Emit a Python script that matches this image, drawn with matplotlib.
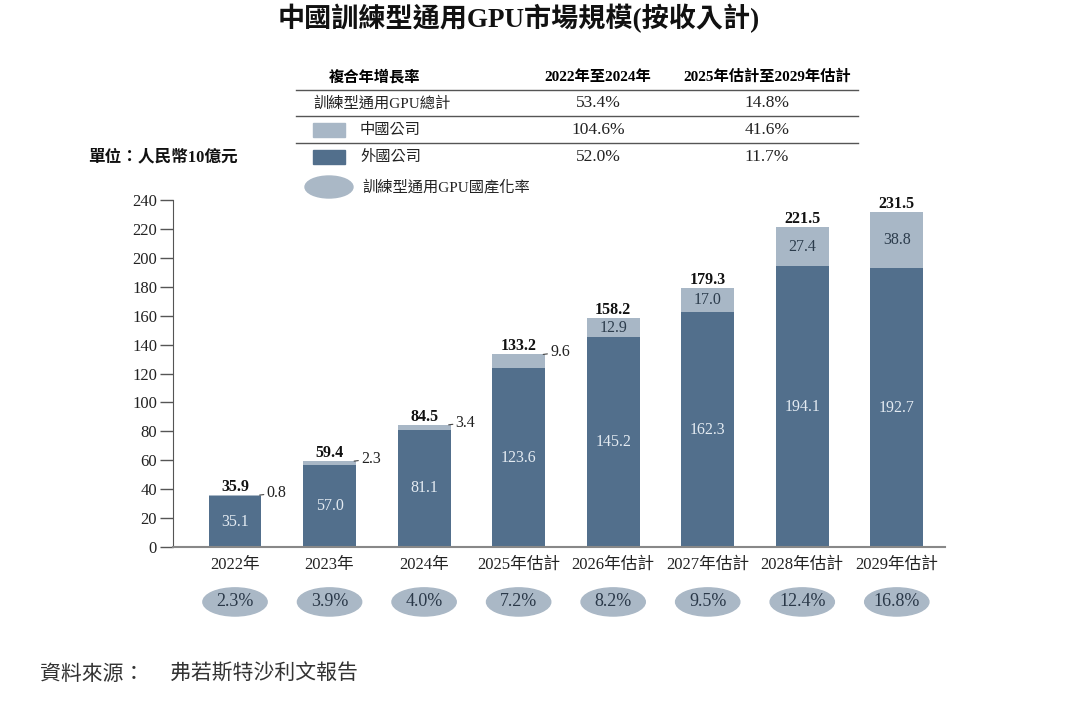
import matplotlib.pyplot as plt
from matplotlib.patches import Ellipse, Rectangle

plt.rcParams['font.family'] = ['Liberation Serif', 'Noto Sans CJK TC', 'DejaVu Sans']

years = ['2022年', '2023年', '2024年', '2025年估計', '2026年估計', '2027年估計', '2028年估計', '2029年估計']
foreign = [35.1, 57.0, 81.1, 123.6, 145.2, 162.3, 194.1, 192.7]
china = [0.8, 2.3, 3.4, 9.6, 12.9, 17.0, 27.4, 38.8]
totals = [35.9, 59.4, 84.5, 133.2, 158.2, 179.3, 221.5, 231.5]
local_rate = ['2.3%', '3.9%', '4.0%', '7.2%', '8.2%', '9.5%', '12.4%', '16.8%']

cagr_head = ['複合年增長率', '2022年至2024年', '2025年估計至2029年估計']
cagr_rows = ['訓練型通用GPU總計', '中國公司', '外國公司']
cagr_a = ['53.4%', '104.6%', '52.0%']
cagr_b = ['14.8%', '41.6%', '11.7%']

dark = '#526f8c'
light = '#a8b7c6'
ell_col = '#aab8c6'
txt = '#222222'

W, H = 1080, 701
fig = plt.figure(figsize=(W / 100, H / 100), dpi=100)


def px(x, y):
    return x / W, 1 - y / H


ax = fig.add_axes([173 / W, 1 - 547 / H, (945 - 173) / W, (547 - 200) / H])
x = list(range(len(years)))
bw = 0.56
ax.bar(x, foreign, bw, color=dark, zorder=2)
ax.bar(x, china, bw, bottom=foreign, color=light, zorder=2)

for i in x:
    ax.text(i, foreign[i] / 2, f'{foreign[i]:.1f}', ha='center', va='center',
            color='#e4ebf2', fontsize=11.5)
    ax.text(i, totals[i], f'{totals[i]:.1f}', ha='center', va='bottom',
            fontsize=11.5, fontweight='bold', color='#111111')
    if china[i] >= 10:
        ax.text(i, foreign[i] + china[i] / 2, f'{china[i]:.1f}', ha='center',
                va='center', fontsize=11.5, color='#2c3c4c')
    else:
        ax.annotate(f'{china[i]:.1f}', xy=(i + bw / 2 - 0.02, totals[i]),
                    xytext=(5, 1.5), textcoords='offset points', ha='left',
                    va='center', fontsize=11.5, color=txt,
                    arrowprops=dict(arrowstyle='-', color='#444444', lw=0.8,
                                    shrinkA=0, shrinkB=0))
    ax.add_patch(Ellipse((i, -38), 0.68, 19.5, color=ell_col, clip_on=False))
    ax.text(i, -38, local_rate[i], ha='center', va='center', fontsize=13,
            color='#2a3848')

ax.set_xlim(-0.656, 7.51)
ax.set_ylim(0, 240)
ax.set_yticks(range(0, 241, 20))
ax.set_xticks(x)
ax.set_xticklabels(years, fontsize=12, color=txt)
ax.tick_params(axis='x', length=0, pad=7)
ax.tick_params(axis='y', direction='out', length=9.5, width=1, color='#555555',
               labelsize=12, labelcolor=txt, pad=2)
for s in ['top', 'right']:
    ax.spines[s].set_visible(False)
ax.spines['left'].set_color('#555555')
ax.spines['bottom'].set_color('#888888')
ax.spines['bottom'].set_linewidth(1.5)

# title
fig.text(*px(519, 18), '中國訓練型通用GPU市場規模(按收入計)', ha='center', va='center',
         fontsize=19.5, fontweight='bold', color='#111111')
fig.text(*px(88, 157), '單位：人民幣10億元', ha='left', va='center',
         fontsize=12, fontweight='bold', color='#111111')

# CAGR table
fig.text(*px(375, 77), cagr_head[0], ha='center', va='center', fontsize=11, fontweight='bold')
fig.text(*px(598, 77), cagr_head[1], ha='center', va='center', fontsize=11, fontweight='bold')
fig.text(*px(767, 77), cagr_head[2], ha='center', va='center', fontsize=11, fontweight='bold')
row_y = [103, 130, 157]
for k, yy in enumerate(row_y):
    lx = 313 if k == 0 else 360
    fig.text(*px(lx, yy), cagr_rows[k], ha='left', va='center', fontsize=11, color=txt)
    fig.text(*px(598, yy), cagr_a[k], ha='center', va='center', fontsize=12.5, color=txt)
    fig.text(*px(767, yy), cagr_b[k], ha='center', va='center', fontsize=12.5, color=txt)
for ly in [90, 116, 143]:
    fig.add_artist(plt.Line2D([296 / W, 858 / W], [1 - ly / H] * 2, color='#555555', lw=1))
fig.add_artist(Rectangle(px(313, 137), 32 / W, 14 / H, color=light))
fig.add_artist(Rectangle(px(313, 164), 32 / W, 14 / H, color=dark))
fig.add_artist(Ellipse(px(329, 187), 48 / W, 22 / H, color=ell_col))
fig.text(*px(362, 187), '訓練型通用GPU國產化率', ha='left', va='center', fontsize=11, color=txt)

fig.text(*px(40, 675), '資料來源：', ha='left', va='center', fontsize=15, color='#333333')
fig.text(*px(170, 675), '弗若斯特沙利文報告', ha='left', va='center', fontsize=15, color='#333333')

fig.savefig('out.png', dpi=100)
